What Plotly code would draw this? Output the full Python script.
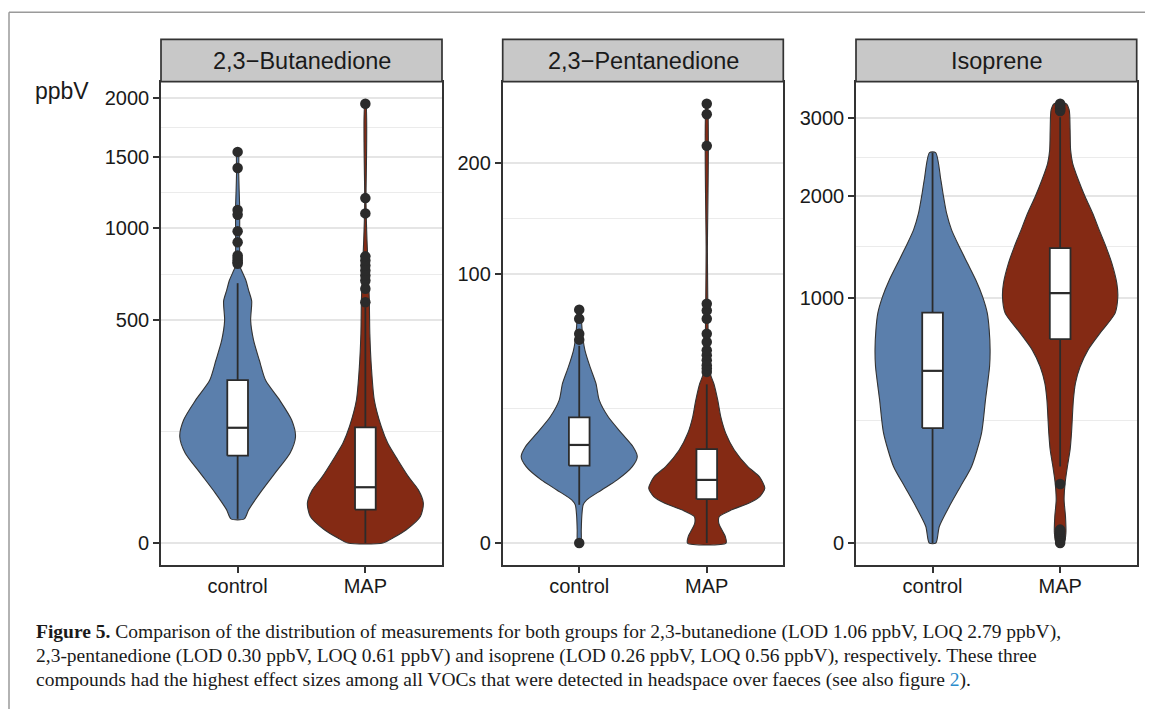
import numpy as np
import plotly.graph_objects as go

# ---------------- data (ppbV) ----------------
panels = ["2,3\u2212Butanedione", "2,3\u2212Pentanedione", "Isoprene"]
groups = ["control", "MAP"]

# y tick labels per panel
but_ticks = [0, 500, 1000, 1500, 2000]
pen_ticks = [0, 100, 200]
iso_ticks = [0, 1000, 2000, 3000]

# violin outlines: level (ppbV) and half width (category units)
but_ctrl_level = [5.9, 11.1, 25.4, 49.6, 81.8, 114, 152.5, 206, 267, 337, 414, 500, 590, 644, 695, 749, 767, 827, 1136, 1252, 1397, 1543]
but_ctrl_halfw = [0.052, 0.086, 0.176, 0.294, 0.411, 0.453, 0.423, 0.329, 0.219, 0.170, 0.125, 0.102, 0.110, 0.086, 0.065, 0.031, 0.020, 0.016, 0.016, 0.012, 0.008, 0.006]
but_map_level = [0, 0.25, 1.77, 7.1, 16.05, 28.5, 44.5, 69.6, 100.3, 136.3, 206, 313, 442, 594, 749, 922, 1048, 1182, 1947]
but_map_halfw = [0.137, 0.215, 0.321, 0.431, 0.454, 0.415, 0.337, 0.254, 0.176, 0.125, 0.070, 0.047, 0.035, 0.031, 0.023, 0.013, 0.008, 0.005, 0.004]

pen_ctrl_level = [0, 0.24, 0.97, 2.02, 2.58, 3.9, 5.51, 8.07, 10.31, 12.83, 16.64, 22.04, 28.23, 35.2, 42.88, 51.37, 56.83, 65.5, 75.3]
pen_ctrl_halfw = [0.012, 0.016, 0.020, 0.031, 0.059, 0.176, 0.298, 0.416, 0.455, 0.422, 0.333, 0.227, 0.157, 0.131, 0.085, 0.045, 0.031, 0.020, 0.012]
pen_map_level = [0, 0.06, 0.24, 0.55, 0.97, 1.53, 2.2, 2.99, 4.16, 6.1, 8.07, 11.97, 16.64, 22.04, 28.23, 35.2, 38.94, 46.2, 56.8, 81.4, 118.1, 266.9]
pen_map_halfw = [0.151, 0.145, 0.118, 0.094, 0.098, 0.196, 0.329, 0.416, 0.455, 0.412, 0.322, 0.216, 0.149, 0.110, 0.086, 0.055, 0.031, 0.020, 0.012, 0.008, 0.005, 0.004]

iso_ctrl_level = [0, 4.57, 22.2, 53.2, 97.4, 200.8, 340.8, 517.5, 620, 755, 878, 1009, 1150, 1301, 1460, 1629, 1807, 1993, 2190, 2532]
iso_ctrl_halfw = [0.026, 0.053, 0.131, 0.219, 0.306, 0.384, 0.415, 0.447, 0.451, 0.444, 0.429, 0.392, 0.339, 0.274, 0.209, 0.149, 0.110, 0.086, 0.065, 0.024]
iso_map_level = [0, 1.66, 11.7, 31.1, 59.7, 97.4, 144.5, 200.8, 340.8, 424.8, 517.5, 620, 732, 878, 1009, 1122, 1301, 1460, 1629, 1807, 1993, 2190, 2396, 2567, 2834, 3116, 3207]
iso_map_halfw = [0.031, 0.045, 0.042, 0.031, 0.039, 0.057, 0.078, 0.089, 0.104, 0.120, 0.157, 0.219, 0.313, 0.431, 0.452, 0.444, 0.405, 0.359, 0.306, 0.255, 0.196, 0.143, 0.098, 0.082, 0.078, 0.071, 0.047]

# box statistics: lower whisker, Q1, median, Q3, upper whisker
but_ctrl_box = [5.9, 76.9, 134, 267.4, 681]
but_map_box = [0, 11.3, 31.4, 135, 560]
pen_ctrl_box = [2.02, 8.28, 13.3, 21.8, 53.8]
pen_map_box = [0, 2.66, 5.51, 12.2, 34.8]
iso_ctrl_box = [0, 219.4, 492.6, 882, 2532]
iso_map_box = [97.4, 690.6, 1037, 1444, 3012]

# outliers
but_ctrl_out = [786, 795, 805, 820, 834, 912, 980, 1087, 1119, 1418, 1543]
but_map_out = [585, 652, 695, 722, 749, 777, 805, 829, 1096, 1200, 1947]
pen_ctrl_out = [0, 57.2, 60.6, 69.6, 75.3]
pen_map_out = [40.5, 42.1, 43.7, 46.2, 48.8, 51.4, 55.9, 60.6, 69.6, 74.8, 79.2, 218.1, 254.2, 266.9]
iso_ctrl_out = []
iso_map_out = [0, 0.2, 0.5, 1.0, 1.6, 2.3, 3.0, 57.8, 3100, 3120, 3140, 3160, 3185, 3207]

panel_data = [
    (but_ticks, [(but_ctrl_level, but_ctrl_halfw, but_ctrl_box, but_ctrl_out),
                 (but_map_level, but_map_halfw, but_map_box, but_map_out)]),
    (pen_ticks, [(pen_ctrl_level, pen_ctrl_halfw, pen_ctrl_box, pen_ctrl_out),
                 (pen_map_level, pen_map_halfw, pen_map_box, pen_map_out)]),
    (iso_ticks, [(iso_ctrl_level, iso_ctrl_halfw, iso_ctrl_box, iso_ctrl_out),
                 (iso_map_level, iso_map_halfw, iso_map_box, iso_map_out)]),
]

# ---------------- layout / style ----------------
W, H = 1153, 709
OFF = 8  # page body margin of the browser
def fx(px):
    return (px - OFF) / W
def fy(py):
    return 1 - (py - OFF) / H

panel_px = [(161.0, 442.0), (502.7, 783.3), (856.0, 1136.7)]
plot_top, plot_bot, strip_top = 81.7, 565.0, 39.3
fills = ["#5B7FAC", "#842A14"]
dark = "#2B2B2B"
frame = "#333333"
sans = "Liberation Sans, Arial, sans-serif"
serif = "Liberation Serif, Times New Roman, serif"
box_w = 0.162

fig = go.Figure()
layout = dict(
    width=W, height=H, margin=dict(l=0, r=0, t=0, b=0),
    paper_bgcolor="white", plot_bgcolor="white", showlegend=False,
    shapes=[], annotations=[],
)

for i, (ticks, groupdata) in enumerate(panel_data):
    sfx = "" if i == 0 else str(i + 1)
    xa, ya = "x" + sfx, "y" + sfx
    allvals = []
    for gi, (lev, hw, box, out) in enumerate(groupdata):
        c = gi + 1
        lev = np.asarray(lev, float)
        hw = np.asarray(hw, float)
        ys = np.sqrt(lev)
        xs = np.concatenate([c + hw, (c - hw)[::-1], [c + hw[0]]])
        yy = np.concatenate([ys, ys[::-1], [ys[0]]])
        # violin body
        fig.add_trace(go.Scatter(
            x=xs, y=yy, mode="lines", fill="toself", fillcolor=fills[gi],
            line=dict(color="#333333", width=1.1, shape="spline", smoothing=0.7),
            xaxis=xa, yaxis=ya, hoverinfo="skip"))
        # box plot (whiskers, box, median)
        lo, q1, med, q3, hi = np.sqrt(np.asarray(box, float))
        h = box_w / 2
        fig.add_trace(go.Scatter(
            x=[c, c, None, c, c], y=[lo, q1, None, q3, hi], mode="lines",
            line=dict(color=dark, width=1.8), xaxis=xa, yaxis=ya, hoverinfo="skip"))
        fig.add_trace(go.Scatter(
            x=[c - h, c + h, c + h, c - h, c - h], y=[q1, q1, q3, q3, q1],
            mode="lines", fill="toself", fillcolor="white",
            line=dict(color=dark, width=1.8), xaxis=xa, yaxis=ya, hoverinfo="skip"))
        fig.add_trace(go.Scatter(
            x=[c - h, c + h], y=[med, med], mode="lines",
            line=dict(color=dark, width=2.2), xaxis=xa, yaxis=ya, hoverinfo="skip"))
        if len(out):
            fig.add_trace(go.Scatter(
                x=[c] * len(out), y=np.sqrt(np.asarray(out, float)), mode="markers",
                marker=dict(color=dark, size=10.5, line=dict(width=0)),
                xaxis=xa, yaxis=ya))
        allvals += list(lev) + list(out) + list(box)
    M = np.sqrt(max(allvals))
    major = np.sqrt(np.asarray(ticks, float))
    minor = (major[:-1] + major[1:]) / 2
    x0, x1 = panel_px[i]
    layout["xaxis" + sfx] = dict(
        domain=[fx(x0), fx(x1)], range=[0.4, 2.6], anchor=ya,
        tickmode="array", tickvals=[1, 2], ticktext=groups,
        ticks="outside", ticklen=6, tickwidth=1.5, tickcolor=frame,
        ticklabelstandoff=-4,
        showgrid=False, zeroline=False, showline=True, mirror=True,
        linecolor=frame, linewidth=1.7,
        tickfont=dict(family=sans, size=20, color="#1a1a1a"), fixedrange=True)
    layout["yaxis" + sfx] = dict(
        domain=[fy(plot_bot), fy(plot_top)], range=[-0.05 * M, 1.05 * M], anchor=xa,
        tickmode="array", tickvals=list(major), ticktext=[str(t) for t in ticks],
        ticks="outside", ticklen=6, tickwidth=1.5, tickcolor=frame,
        showgrid=True, gridcolor="#E5E5E5", gridwidth=1.9,
        minor=dict(tickmode="array", tickvals=list(minor), showgrid=True,
                   gridcolor="#EBEBEB", gridwidth=1, ticks=""),
        zeroline=False, showline=True, mirror=True, linecolor=frame, linewidth=1.7,
        tickfont=dict(family=sans, size=20, color="#1a1a1a"), fixedrange=True)
    # strip
    layout["shapes"].append(dict(
        type="rect", xref="paper", yref="paper", x0=fx(x0), x1=fx(x1),
        y0=fy(plot_top), y1=fy(strip_top),
        fillcolor="#C8C8C8", line=dict(color=frame, width=1.7), layer="above"))
    layout["annotations"].append(dict(
        text=panels[i], xref="paper", yref="paper", x=fx((x0 + x1) / 2),
        y=fy((strip_top + plot_top) / 2), xanchor="center", yanchor="middle",
        showarrow=False, font=dict(family=sans, size=23.5, color="#1a1a1a")))

# unit label
layout["annotations"].append(dict(
    text="ppbV", xref="paper", yref="paper", x=fx(62), y=fy(91),
    xanchor="center", yanchor="middle", showarrow=False,
    font=dict(family=sans, size=23, color="#1a1a1a")))

# caption
caption = [
    "<b>Figure 5.</b> Comparison of the distribution of measurements for both groups for 2,3-butanedione (LOD 1.06 ppbV, LOQ 2.79 ppbV),",
    "2,3-pentanedione (LOD 0.30 ppbV, LOQ 0.61 ppbV) and isoprene (LOD 0.26 ppbV, LOQ 0.56 ppbV), respectively. These three",
    "compounds had the highest effect sizes among all VOCs that were detected in headspace over faeces (see also figure <span style='color:#2A8BCB'>2</span>).",
]
for k, line in enumerate(caption):
    layout["annotations"].append(dict(
        text=line, xref="paper", yref="paper", x=fx(34), y=fy(632 + 24 * k),
        xanchor="left", yanchor="middle", showarrow=False,
        font=dict(family=serif, size=19.5, color="#1a1a1a")))

# page frame (top and left edges)
layout["shapes"].append(dict(type="line", xref="paper", yref="paper",
                             x0=fx(9), x1=1, y0=fy(12.3), y1=fy(12.3),
                             line=dict(color="#9A9A9A", width=1.5)))
layout["shapes"].append(dict(type="line", xref="paper", yref="paper",
                             x0=fx(9), x1=fx(9), y0=0, y1=fy(12.3),
                             line=dict(color="#9A9A9A", width=1.5)))

fig.update_layout(**layout)
fig.write_html("out.html")
